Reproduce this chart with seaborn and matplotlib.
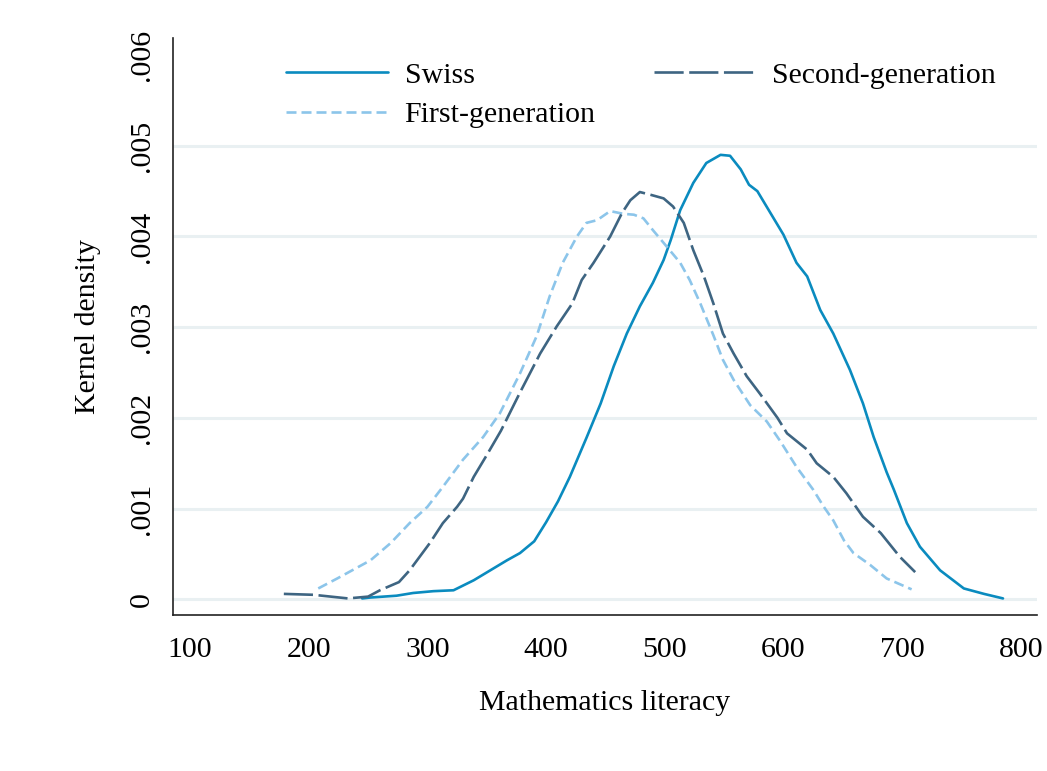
import numpy as np
import pandas as pd
import matplotlib
matplotlib.use("Agg")
import matplotlib.pyplot as plt
import seaborn as sns

# ---- data ----
swiss_x = [245, 252, 274, 288, 305, 322, 339, 353, 367, 378, 390, 400, 410, 420, 434,
           446, 457, 468, 479, 490, 499, 505, 513, 524, 535, 547, 555, 564, 571, 578,
           589, 600, 611, 620, 631, 642, 656, 667, 676, 687, 693, 704, 715, 732, 752,
           769, 785]
swiss_y = [0.00001, 0.00002, 0.00004, 0.00007, 0.00009, 0.00010, 0.00021, 0.00032,
           0.00043, 0.00051, 0.00064, 0.00085, 0.00108, 0.00135, 0.00178, 0.00216,
           0.00257, 0.00293, 0.00323, 0.00349, 0.00374, 0.00396, 0.00429, 0.00459,
           0.00481, 0.00490, 0.00489, 0.00474, 0.00457, 0.00450, 0.00426, 0.00402,
           0.00371, 0.00356, 0.00319, 0.00293, 0.00253, 0.00216, 0.00179, 0.00140,
           0.00121, 0.00084, 0.00058, 0.00032, 0.00012, 0.00006, 0.00001]

second_x = [179, 204, 233, 250, 260, 276, 285, 302, 313, 325, 330, 339, 350, 362, 378,
            395, 409, 422, 430, 440, 454, 464, 471, 479, 488, 499, 507, 516, 524, 533,
            541, 549, 558, 569, 580, 595, 603, 620, 628, 642, 653, 667, 682, 698, 711]
second_y = [0.00006, 0.00005, 0.00001, 0.00003, 0.00010, 0.00019, 0.00032, 0.00062,
            0.00084, 0.00102, 0.00111, 0.00135, 0.00159, 0.00186, 0.00228, 0.00271,
            0.00301, 0.00326, 0.00352, 0.00371, 0.00400, 0.00426, 0.00440, 0.00449,
            0.00446, 0.00442, 0.00433, 0.00415, 0.00385, 0.00356, 0.00326, 0.00293,
            0.00271, 0.00246, 0.00227, 0.00200, 0.00183, 0.00165, 0.00150, 0.00135,
            0.00117, 0.00091, 0.00073, 0.00047, 0.00030]

first_x = [208, 224, 252, 269, 285, 300, 313, 330, 347, 361, 378, 392, 403, 414, 426,
           434, 443, 454, 465, 474, 482, 490, 499, 513, 521, 530, 541, 549, 558, 572,
           586, 597, 611, 625, 634, 642, 651, 659, 673, 687, 708]
first_y = [0.00012, 0.00023, 0.00043, 0.00062, 0.00084, 0.00102, 0.00124, 0.00154,
           0.00179, 0.00205, 0.00249, 0.00290, 0.00334, 0.00371, 0.00400, 0.00415,
           0.00418, 0.00428, 0.00425, 0.00424, 0.00420, 0.00407, 0.00393, 0.00371,
           0.00352, 0.00326, 0.00291, 0.00264, 0.00242, 0.00214, 0.00196, 0.00175,
           0.00146, 0.00121, 0.00102, 0.00087, 0.00065, 0.00051, 0.00038, 0.00023,
           0.00011]

x_ticks = [100, 200, 300, 400, 500, 600, 700, 800]
y_ticks = [0, 0.001, 0.002, 0.003, 0.004, 0.005, 0.006]
y_tick_labels = ["0", ".001", ".002", ".003", ".004", ".005", ".006"]

labels = ["Swiss", "First-generation", "Second-generation"]
colors = {"Swiss": "#0a8bbf", "First-generation": "#8cc5ea", "Second-generation": "#3e6582"}
dash_styles = {"Swiss": None, "First-generation": (7.2, 3.6), "Second-generation": (21, 4)}

# ---- style ----
sns.set_theme(style="white")
plt.rcParams["font.family"] = ["Liberation Serif", "DejaVu Serif"]
plt.rcParams["lines.scale_dashes"] = False
plt.rcParams["text.color"] = "black"

FS = 21.5

fig = plt.figure(figsize=(10.47, 7.71), dpi=100)
ax = fig.add_axes([0.165, 0.2023, 0.8255, 0.7484])

series = {
    "Swiss": (swiss_x, swiss_y),
    "First-generation": (first_x, first_y),
    "Second-generation": (second_x, second_y),
}

for name in ["Swiss", "First-generation", "Second-generation"]:
    xs, ys = series[name]
    df = pd.DataFrame({"x": xs, "y": ys})
    sns.lineplot(data=df, x="x", y="y", ax=ax, color=colors[name], linewidth=1.9,
                 label=name, sort=False, estimator=None)
    line = ax.lines[-1]
    if dash_styles[name] is not None:
        line.set_dashes(dash_styles[name])

for yv in y_ticks[:-1]:
    ax.axhline(yv, color="#e9f0f2", lw=2.2, zorder=0)

ax.set_xlim(85.4, 813.7)
ax.set_ylim(-0.000173, 0.006188)
ax.set_xticks(x_ticks)
ax.set_xticklabels([str(v) for v in x_ticks])
ax.set_yticks(y_ticks)
ax.set_yticklabels(y_tick_labels, rotation=90, va="center")

for s in ["top", "right"]:
    ax.spines[s].set_visible(False)
for s in ["left", "bottom"]:
    ax.spines[s].set_color("#222222")
    ax.spines[s].set_linewidth(1.2)

ax.tick_params(axis="both", which="major", length=8, width=1.2, color="#222222",
               labelsize=FS, labelcolor="black", direction="out")
ax.tick_params(axis="x", pad=8)
ax.tick_params(axis="y", pad=5)
ax.set_xlabel("Mathematics literacy", fontsize=FS, labelpad=19, color="black")
ax.set_ylabel("Kernel density", fontsize=FS, labelpad=20, color="black")

handles, labs = ax.get_legend_handles_labels()
order = [labs.index(l) for l in labels]
leg = ax.legend([handles[i] for i in order], [labs[i] for i in order], ncol=2,
                frameon=False, fontsize=FS, handlelength=3.4, handletextpad=0.57,
                columnspacing=1.95, labelspacing=0.42, borderpad=0, borderaxespad=0,
                loc="upper left", bbox_to_anchor=(286 / 1047, 1 - 62 / 771),
                bbox_transform=fig.transFigure)
for t in leg.get_texts():
    t.set_color("black")

fig.savefig("out.png", dpi=100, facecolor="white")
